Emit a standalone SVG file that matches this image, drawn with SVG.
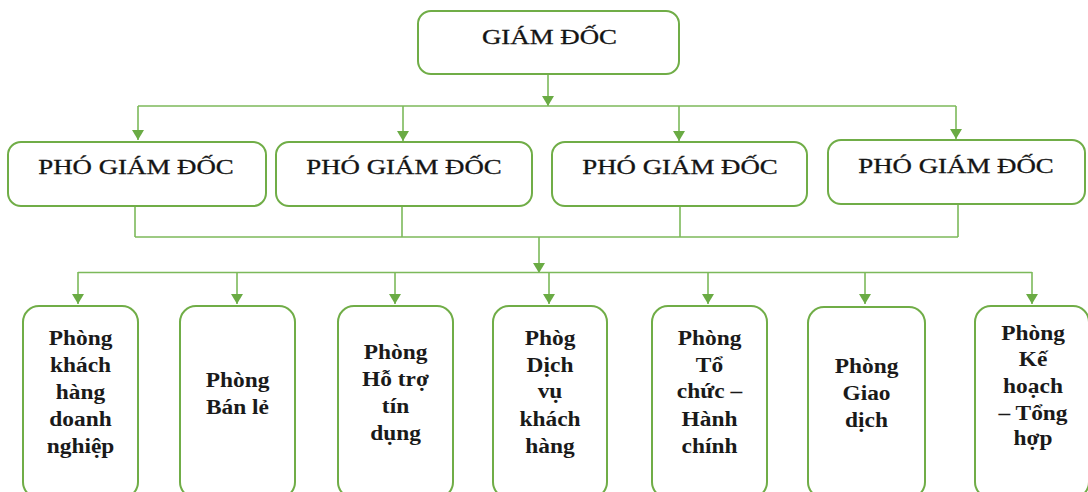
<svg xmlns="http://www.w3.org/2000/svg" width="1088" height="492" viewBox="0 0 1088 492">
<style>
.box{fill:#ffffff;stroke:#70ad47;stroke-width:2}
.con{fill:none;stroke:#7cb95a;stroke-width:1.6}
.t{font-family:"Liberation Serif","Times New Roman",serif;font-weight:bold;font-size:20px;fill:#1a1a1a;text-anchor:middle}
.h{font-family:"Liberation Serif","Times New Roman",serif;font-weight:normal;font-size:21px;fill:#141414;text-anchor:middle;stroke:#141414;stroke-width:0.3}
</style>
<defs>
<marker id="ah" viewBox="0 0 10 12" refX="10" refY="6" markerWidth="10" markerHeight="12" markerUnits="userSpaceOnUse" orient="auto">
<path d="M0,0 L10,6 L0,12 z" fill="#6aab44"/>
</marker>
</defs>
<rect width="1088" height="492" fill="#ffffff"/>
<g id="connectors">
<line class="con" x1="548" y1="74" x2="548" y2="106" marker-end="url(#ah)"/>
<line class="con" x1="138" y1="106" x2="956" y2="106"/>
<line class="con" x1="138" y1="106" x2="138" y2="140" marker-end="url(#ah)"/>
<line class="con" x1="403" y1="106" x2="403" y2="141" marker-end="url(#ah)"/>
<line class="con" x1="679" y1="106" x2="679" y2="141" marker-end="url(#ah)"/>
<line class="con" x1="956" y1="106" x2="956" y2="139" marker-end="url(#ah)"/>
<line class="con" x1="135" y1="206" x2="135" y2="237"/>
<line class="con" x1="402" y1="206" x2="402" y2="237"/>
<line class="con" x1="680" y1="206" x2="680" y2="237"/>
<line class="con" x1="958" y1="204" x2="958" y2="237"/>
<line class="con" x1="135" y1="237" x2="958" y2="237"/>
<line class="con" x1="539" y1="237" x2="539" y2="273" marker-end="url(#ah)"/>
<line class="con" x1="78" y1="272.5" x2="1032" y2="272.5"/>
<line class="con" x1="78" y1="272" x2="78" y2="304" marker-end="url(#ah)"/>
<line class="con" x1="237" y1="272" x2="237" y2="304" marker-end="url(#ah)"/>
<line class="con" x1="395" y1="272" x2="395" y2="304" marker-end="url(#ah)"/>
<line class="con" x1="549" y1="272" x2="549" y2="304" marker-end="url(#ah)"/>
<line class="con" x1="708" y1="272" x2="708" y2="304" marker-end="url(#ah)"/>
<line class="con" x1="865" y1="272" x2="865" y2="304" marker-end="url(#ah)"/>
<line class="con" x1="1032" y1="272" x2="1032" y2="304" marker-end="url(#ah)"/>
</g>
<g id="giam-doc">
<rect class="box" x="418" y="11" width="261" height="63" rx="13"/>
<text class="h" transform="translate(549.5,44) scale(1.28,1)">GIÁM ĐỐC</text>
</g>
<g id="pho-giam-doc-1">
<rect class="box" x="8" y="142" width="258" height="64" rx="13"/>
<text class="h" transform="translate(136,174) scale(1.28,1)">PHÓ GIÁM ĐỐC</text>
</g>
<g id="pho-giam-doc-2">
<rect class="box" x="276" y="142" width="256" height="64" rx="13"/>
<text class="h" transform="translate(404,174) scale(1.28,1)">PHÓ GIÁM ĐỐC</text>
</g>
<g id="pho-giam-doc-3">
<rect class="box" x="552" y="142" width="255" height="64" rx="13"/>
<text class="h" transform="translate(680,174) scale(1.28,1)">PHÓ GIÁM ĐỐC</text>
</g>
<g id="pho-giam-doc-4">
<rect class="box" x="828" y="140" width="257" height="64" rx="13"/>
<text class="h" transform="translate(956,173) scale(1.28,1)">PHÓ GIÁM ĐỐC</text>
</g>
<g id="phong-khdn">
<rect class="box" x="23" y="306" width="115" height="192" rx="16"/>
<g transform="translate(80.5,0) scale(1.17,1)">
<text class="t" x="0" y="345">Phòng</text>
<text class="t" x="0" y="372">khách</text>
<text class="t" x="0" y="399">hàng</text>
<text class="t" x="0" y="426">doanh</text>
<text class="t" x="0" y="453">nghiệp</text>
</g>
</g>
<g id="phong-ban-le">
<rect class="box" x="180" y="306" width="115" height="192" rx="16"/>
<g transform="translate(237.5,0) scale(1.17,1)">
<text class="t" x="0" y="387">Phòng</text>
<text class="t" x="0" y="414">Bán lẻ</text>
</g>
</g>
<g id="phong-ho-tro-tin-dung">
<rect class="box" x="338" y="306" width="115" height="192" rx="16"/>
<g transform="translate(395.5,0) scale(1.17,1)">
<text class="t" x="0" y="359">Phòng</text>
<text class="t" x="0" y="386">Hỗ trợ</text>
<text class="t" x="0" y="413">tín</text>
<text class="t" x="0" y="440">dụng</text>
</g>
</g>
<g id="phong-dich-vu-khach-hang">
<rect class="box" x="493" y="306" width="114" height="192" rx="16"/>
<g transform="translate(550,0) scale(1.17,1)">
<text class="t" x="0" y="345">Phòg</text>
<text class="t" x="0" y="372">Dịch</text>
<text class="t" x="0" y="398">vụ</text>
<text class="t" x="0" y="426">khách</text>
<text class="t" x="0" y="453">hàng</text>
</g>
</g>
<g id="phong-to-chuc-hanh-chinh">
<rect class="box" x="652" y="306" width="115" height="192" rx="16"/>
<g transform="translate(709.5,0) scale(1.17,1)">
<text class="t" x="0" y="345">Phòng</text>
<text class="t" x="0" y="372">Tổ</text>
<text class="t" x="0" y="398">chức –</text>
<text class="t" x="0" y="426">Hành</text>
<text class="t" x="0" y="453">chính</text>
</g>
</g>
<g id="phong-giao-dich">
<rect class="box" x="808" y="307" width="117" height="191" rx="16"/>
<g transform="translate(866.5,0) scale(1.17,1)">
<text class="t" x="0" y="373">Phòng</text>
<text class="t" x="0" y="400">Giao</text>
<text class="t" x="0" y="427">dịch</text>
</g>
</g>
<g id="phong-ke-hoach-tong-hop">
<rect class="box" x="975" y="306" width="114" height="192" rx="16"/>
<g transform="translate(1033,0) scale(1.17,1)">
<text class="t" x="0" y="340">Phòng</text>
<text class="t" x="0" y="366">Kế</text>
<text class="t" x="0" y="393">hoạch</text>
<text class="t" x="0" y="420">– Tổng</text>
<text class="t" x="0" y="445">hợp</text>
</g>
</g>
</svg>
